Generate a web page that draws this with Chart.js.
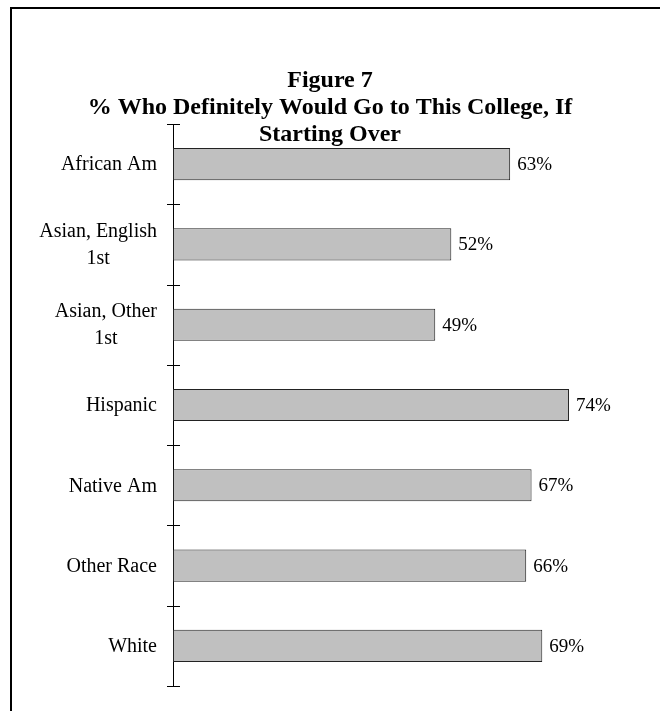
<!DOCTYPE html>
<html>
<head>
<meta charset="utf-8">
<script src="https://cdn.jsdelivr.net/npm/chart.js@4.4.1/dist/chart.umd.min.js"></script>
<style>
  html, body { margin: 0; padding: 0; background: #fff; overflow: hidden; }
  #frame {
    position: absolute; left: 10px; top: 7px; width: 700px; height: 760px;
    border-left: 2px solid #000; border-top: 2px solid #000;
  }
  #wrap { position: absolute; left: 0; top: 0; width: 660px; height: 711px; }
</style>
</head>
<body>
<div id="frame"></div>
<div id="wrap"><canvas id="chart"></canvas></div>
<script>
// chart data
const titleLines = ["Figure 7", "% Who Definitely Would Go to This College, If", "Starting Over"];
const categories = [["African Am"], ["Asian, English", "1st"], ["Asian, Other", "1st"], ["Hispanic"], ["Native Am"], ["Other Race"], ["White"]];
const values = [63, 52, 49, 74, 67, 66, 69];

const serif = "'Liberation Serif', 'Times New Roman', serif";

// tick marks crossing the axis + centred category labels + value labels
const decorations = {
  id: "decorations",
  afterDraw(chart) {
    const ctx = chart.ctx;
    const y = chart.scales.y;
    const x = chart.scales.x;
    const axisX = chart.chartArea.left;
    ctx.save();

    // tick marks between categories
    ctx.strokeStyle = "#000";
    ctx.lineWidth = 1;
    for (let i = 0; i <= categories.length; i++) {
      const ty = Math.round(y.getPixelForValue(i - 0.5)) + 0.5;
      ctx.beginPath();
      ctx.moveTo(axisX - 6, ty);
      ctx.lineTo(axisX + 7, ty);
      ctx.stroke();
    }

    // category labels, each block right aligned, lines centred in the block
    ctx.fillStyle = "#000";
    ctx.font = "20px " + serif;
    ctx.textAlign = "center";
    ctx.textBaseline = "middle";
    const lineH = 27;
    categories.forEach(function (lines, i) {
      const cy = y.getPixelForValue(i);
      let maxW = 0;
      lines.forEach(function (l) { maxW = Math.max(maxW, ctx.measureText(l).width); });
      const cx = axisX - 16 - maxW / 2;
      const top = cy - (lines.length - 1) * lineH / 2 + 1;
      lines.forEach(function (l, k) { ctx.fillText(l, cx, top + k * lineH); });
    });

    // value labels
    ctx.font = "19px " + serif;
    ctx.textAlign = "left";
    values.forEach(function (v, i) {
      ctx.fillText(v + "%", x.getPixelForValue(v) + 7, y.getPixelForValue(i) + 1);
    });
    ctx.restore();
  }
};

new Chart(document.getElementById("chart"), {
  type: "bar",
  data: {
    labels: categories,
    datasets: [{
      data: values,
      backgroundColor: "#c0c0c0",
      borderColor: "#222222",
      borderWidth: 1,
      borderSkipped: false,
      barPercentage: 0.4,
      categoryPercentage: 1
    }]
  },
  options: {
    indexAxis: "y",
    responsive: true,
    maintainAspectRatio: false,
    animation: false,
    events: [],
    layout: { padding: { left: 0, right: 0, top: 0, bottom: 25 } },
    plugins: {
      legend: { display: false },
      tooltip: { enabled: false },
      title: {
        display: true,
        text: titleLines,
        color: "#000",
        font: { family: serif, size: 24, weight: "bold", lineHeight: 27 / 24 },
        padding: { top: 67, bottom: -24 }
      }
    },
    scales: {
      x: {
        display: false,
        min: 0,
        max: 91
      },
      y: {
        offset: true,
        grid: { display: false },
        ticks: { display: false },
        border: { display: true, color: "#000", width: 1 },
        afterFit(scale) { scale.width = 173; }
      }
    }
  },
  plugins: [decorations]
});
</script>
</body>
</html>
